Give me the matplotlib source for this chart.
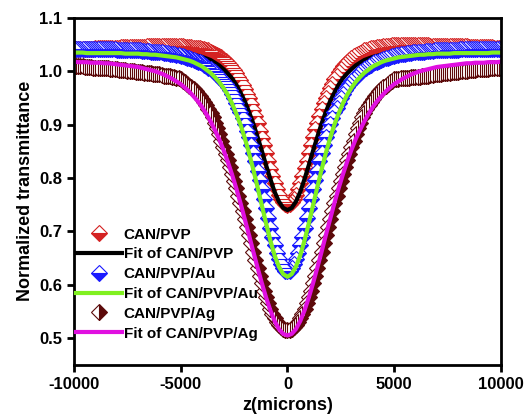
import numpy as np
import matplotlib
matplotlib.use('Agg')
import matplotlib.pyplot as plt
from matplotlib.ticker import FormatStrFormatter

# measured points every 100 microns, fit curves every 200 microns
z_data = np.arange(-10000, 10001, 100)
z_fit = np.arange(-10000, 10001, 200)

# CAN/PVP data (201 points) and fit (101 points)
pvp = [1.041, 1.041, 1.041, 1.041, 1.042, 1.042, 1.042, 1.042, 1.042, 1.042,
       1.043, 1.043, 1.043, 1.043, 1.043, 1.043, 1.044, 1.044, 1.044, 1.044,
       1.044, 1.044, 1.045, 1.045, 1.045, 1.045, 1.045, 1.045, 1.046, 1.046,
       1.046, 1.046, 1.046, 1.046, 1.047, 1.047, 1.047, 1.047, 1.047, 1.047,
       1.047, 1.047, 1.047, 1.047, 1.047, 1.047, 1.047, 1.047, 1.047, 1.047,
       1.047, 1.047, 1.046, 1.046, 1.045, 1.045, 1.044, 1.044, 1.043, 1.043,
       1.042, 1.041, 1.040, 1.039, 1.037, 1.035, 1.033, 1.031, 1.029, 1.026,
       1.023, 1.020, 1.016, 1.012, 1.007, 1.002, 0.996, 0.990, 0.983, 0.975,
       0.967, 0.958, 0.949, 0.939, 0.928, 0.916, 0.903, 0.889, 0.875, 0.861,
       0.846, 0.831, 0.817, 0.803, 0.790, 0.779, 0.769, 0.761, 0.755, 0.751,
       0.750,
       0.751, 0.755, 0.761, 0.769, 0.779, 0.791, 0.804, 0.818, 0.832, 0.847,
       0.862, 0.876, 0.891, 0.904, 0.917, 0.929, 0.940, 0.950, 0.960, 0.969,
       0.977, 0.985, 0.992, 0.998, 1.004, 1.009, 1.014, 1.018, 1.022, 1.025,
       1.028, 1.031, 1.033, 1.035, 1.037, 1.039, 1.040, 1.042, 1.043, 1.044,
       1.044, 1.045, 1.046, 1.046, 1.047, 1.047, 1.048, 1.048, 1.049, 1.049,
       1.049, 1.049, 1.050, 1.050, 1.050, 1.050, 1.050, 1.050, 1.050, 1.050,
       1.049, 1.049, 1.049, 1.049, 1.049, 1.049, 1.048, 1.048, 1.048, 1.048,
       1.048, 1.048, 1.048, 1.048, 1.048, 1.048, 1.048, 1.048, 1.047, 1.047,
       1.047, 1.047, 1.047, 1.047, 1.046, 1.046, 1.046, 1.046, 1.046, 1.046,
       1.045, 1.045, 1.045, 1.045, 1.045, 1.045, 1.044, 1.044, 1.044, 1.044]
fit_pvp = [1.040, 1.040, 1.040, 1.040, 1.040, 1.040, 1.040, 1.040, 1.039, 1.039,
           1.039, 1.039, 1.039, 1.039, 1.039, 1.039, 1.039, 1.039, 1.038, 1.038,
           1.038, 1.037, 1.037, 1.036, 1.036, 1.035, 1.034, 1.033, 1.031, 1.029,
           1.027, 1.024, 1.021, 1.016, 1.011, 1.004, 0.996, 0.987, 0.975, 0.960,
           0.944, 0.924, 0.902, 0.877, 0.851, 0.824, 0.798, 0.774, 0.756, 0.744,
           0.740,
           0.744, 0.756, 0.774, 0.798, 0.824, 0.851, 0.877, 0.902, 0.924, 0.944,
           0.960, 0.975, 0.987, 0.996, 1.004, 1.011, 1.016, 1.021, 1.024, 1.027,
           1.029, 1.031, 1.033, 1.034, 1.035, 1.036, 1.036, 1.037, 1.037, 1.038,
           1.038, 1.038, 1.039, 1.039, 1.039, 1.039, 1.039, 1.039, 1.039, 1.039,
           1.039, 1.039, 1.040, 1.040, 1.040, 1.040, 1.040, 1.040, 1.040, 1.040]

# CAN/PVP/Au data and fit
pvp_au = [1.042, 1.042, 1.042, 1.042, 1.042, 1.042, 1.042, 1.042, 1.042, 1.042,
          1.042, 1.042, 1.042, 1.041, 1.041, 1.041, 1.041, 1.041, 1.041, 1.041,
          1.040, 1.040, 1.040, 1.040, 1.040, 1.040, 1.040, 1.040, 1.039, 1.039,
          1.039, 1.039, 1.038, 1.038, 1.038, 1.038, 1.037, 1.037, 1.036, 1.036,
          1.036, 1.036, 1.035, 1.035, 1.034, 1.033, 1.032, 1.032, 1.031, 1.030,
          1.029, 1.028, 1.026, 1.025, 1.024, 1.023, 1.022, 1.020, 1.018, 1.017,
          1.015, 1.012, 1.009, 1.007, 1.004, 1.001, 0.998, 0.994, 0.990, 0.986,
          0.981, 0.976, 0.970, 0.964, 0.957, 0.949, 0.941, 0.932, 0.923, 0.912,
          0.901, 0.889, 0.876, 0.862, 0.847, 0.831, 0.814, 0.797, 0.779, 0.761,
          0.743, 0.725, 0.707, 0.690, 0.674, 0.660, 0.648, 0.638, 0.631, 0.626,
          0.625,
          0.626, 0.631, 0.638, 0.648, 0.660, 0.674, 0.690, 0.707, 0.725, 0.743,
          0.761, 0.779, 0.797, 0.814, 0.831, 0.847, 0.862, 0.876, 0.889, 0.901,
          0.912, 0.923, 0.932, 0.941, 0.949, 0.957, 0.964, 0.970, 0.976, 0.981,
          0.986, 0.990, 0.994, 0.998, 1.001, 1.004, 1.007, 1.009, 1.012, 1.015,
          1.017, 1.018, 1.020, 1.022, 1.023, 1.024, 1.025, 1.026, 1.028, 1.029,
          1.030, 1.031, 1.032, 1.032, 1.033, 1.034, 1.035, 1.035, 1.036, 1.036,
          1.036, 1.036, 1.037, 1.037, 1.038, 1.038, 1.038, 1.038, 1.039, 1.039,
          1.039, 1.039, 1.040, 1.040, 1.040, 1.040, 1.040, 1.040, 1.040, 1.040,
          1.041, 1.041, 1.041, 1.041, 1.041, 1.041, 1.041, 1.041, 1.041, 1.041,
          1.041, 1.041, 1.041, 1.041, 1.041, 1.041, 1.041, 1.041, 1.041, 1.041]
fit_au = [1.035, 1.035, 1.035, 1.034, 1.034, 1.034, 1.034, 1.034, 1.034, 1.034,
          1.034, 1.034, 1.033, 1.033, 1.033, 1.033, 1.032, 1.032, 1.031, 1.031,
          1.030, 1.029, 1.028, 1.027, 1.026, 1.024, 1.022, 1.020, 1.017, 1.013,
          1.009, 1.003, 0.997, 0.989, 0.980, 0.969, 0.956, 0.940, 0.921, 0.900,
          0.875, 0.847, 0.816, 0.783, 0.749, 0.715, 0.683, 0.655, 0.634, 0.620,
          0.615,
          0.620, 0.634, 0.655, 0.683, 0.715, 0.749, 0.783, 0.816, 0.847, 0.875,
          0.900, 0.921, 0.940, 0.956, 0.969, 0.980, 0.989, 0.997, 1.003, 1.009,
          1.013, 1.017, 1.020, 1.022, 1.024, 1.026, 1.027, 1.028, 1.029, 1.030,
          1.031, 1.031, 1.032, 1.032, 1.033, 1.033, 1.033, 1.033, 1.034, 1.034,
          1.034, 1.034, 1.034, 1.034, 1.034, 1.034, 1.034, 1.035, 1.035, 1.035]

# CAN/PVP/Ag data and fit
pvp_ag = [1.010, 1.009, 1.009, 1.009, 1.009, 1.008, 1.008, 1.008, 1.008, 1.007,
          1.007, 1.007, 1.007, 1.006, 1.006, 1.006, 1.006, 1.005, 1.005, 1.004,
          1.004, 1.003, 1.003, 1.002, 1.002, 1.001, 1.001, 1.000, 1.000, 0.999,
          0.999, 0.998, 0.998, 0.997, 0.997, 0.996, 0.996, 0.995, 0.995, 0.994,
          0.994, 0.993, 0.992, 0.992, 0.991, 0.991, 0.990, 0.989, 0.988, 0.987,
          0.985, 0.982, 0.979, 0.977, 0.973, 0.970, 0.966, 0.963, 0.958, 0.954,
          0.948, 0.943, 0.936, 0.930, 0.922, 0.914, 0.903, 0.893, 0.882, 0.870,
          0.858, 0.845, 0.833, 0.820, 0.807, 0.794, 0.781, 0.767, 0.753, 0.738,
          0.723, 0.708, 0.693, 0.678, 0.662, 0.647, 0.632, 0.617, 0.603, 0.589,
          0.577, 0.565, 0.555, 0.545, 0.537, 0.530, 0.524, 0.520, 0.517, 0.516,
          0.515,
          0.516, 0.517, 0.520, 0.524, 0.530, 0.537, 0.545, 0.555, 0.565, 0.577,
          0.589, 0.603, 0.617, 0.632, 0.647, 0.662, 0.678, 0.693, 0.708, 0.723,
          0.738, 0.753, 0.767, 0.781, 0.794, 0.807, 0.820, 0.833, 0.845, 0.858,
          0.870, 0.882, 0.893, 0.903, 0.914, 0.922, 0.930, 0.936, 0.943, 0.948,
          0.954, 0.958, 0.963, 0.966, 0.970, 0.973, 0.977, 0.979, 0.982, 0.985,
          0.986, 0.986, 0.987, 0.987, 0.988, 0.988, 0.988, 0.989, 0.989, 0.989,
          0.990, 0.990, 0.991, 0.991, 0.992, 0.992, 0.993, 0.993, 0.994, 0.994,
          0.995, 0.995, 0.996, 0.996, 0.997, 0.997, 0.998, 0.998, 0.999, 0.999,
          1.000, 1.000, 1.001, 1.001, 1.002, 1.002, 1.003, 1.003, 1.004, 1.004,
          1.005, 1.005, 1.005, 1.005, 1.006, 1.006, 1.006, 1.007, 1.007, 1.007]
fit_ag = [1.018, 1.017, 1.017, 1.017, 1.016, 1.016, 1.016, 1.015, 1.015, 1.014,
          1.013, 1.012, 1.011, 1.010, 1.009, 1.008, 1.006, 1.004, 1.002, 1.000,
          0.997, 0.994, 0.990, 0.986, 0.981, 0.976, 0.969, 0.962, 0.953, 0.944,
          0.933, 0.920, 0.906, 0.890, 0.873, 0.853, 0.831, 0.807, 0.781, 0.753,
          0.723, 0.693, 0.662, 0.632, 0.603, 0.576, 0.552, 0.532, 0.517, 0.508,
          0.505,
          0.508, 0.517, 0.532, 0.552, 0.576, 0.603, 0.632, 0.662, 0.693, 0.723,
          0.753, 0.781, 0.807, 0.831, 0.853, 0.873, 0.890, 0.906, 0.920, 0.933,
          0.944, 0.953, 0.962, 0.969, 0.976, 0.981, 0.986, 0.990, 0.994, 0.997,
          1.000, 1.002, 1.004, 1.006, 1.008, 1.009, 1.010, 1.011, 1.012, 1.013,
          1.014, 1.015, 1.015, 1.016, 1.016, 1.016, 1.017, 1.017, 1.017, 1.018]

plt.rcParams['font.family'] = 'Liberation Sans'
plt.rcParams['font.weight'] = 'bold'
plt.rcParams['axes.unicode_minus'] = False

fig = plt.figure(figsize=(5.25, 4.16), dpi=100)
ax = fig.add_axes([0.141, 0.123, 0.813, 0.834])

# scan points drawn from +z to -z
zd = z_data[::-1]
ax.plot(zd, pvp[::-1], 'D', ms=8, mew=0.8, color='#d42222', mfc='#d42222',
        mfcalt='white', fillstyle='bottom', label='CAN/PVP')
ax.plot(z_fit, fit_pvp, '-', color='black', lw=3, label='Fit of CAN/PVP')
ax.plot(zd, pvp_au[::-1], 'D', ms=8, mew=0.8, color='#1a1aff', mfc='#1a1aff',
        mfcalt='white', fillstyle='bottom', label='CAN/PVP/Au')
ax.plot(z_fit, fit_au, '-', color='#80f020', lw=3, label='Fit of CAN/PVP/Au')
ax.plot(zd, pvp_ag[::-1], 'D', ms=8, mew=0.8, color='#5c0a0a', mfc='#5c0a0a',
        mfcalt='white', fillstyle='right', label='CAN/PVP/Ag')
ax.plot(z_fit, fit_ag, '-', color='#e010e0', lw=3, label='Fit of CAN/PVP/Ag')

ax.set_xlim(-10000, 10000)
ax.set_ylim(0.45, 1.1)
ax.set_xticks([-10000, -5000, 0, 5000, 10000])
ax.set_yticks([0.5, 0.6, 0.7, 0.8, 0.9, 1.0, 1.1])
ax.yaxis.set_major_formatter(FormatStrFormatter('%.1f'))
ax.tick_params(direction='out', length=5, width=2, labelsize=12)
for s in ax.spines.values():
    s.set_linewidth(2)

ax.set_xlabel('z(microns)', fontsize=13, fontweight='bold', labelpad=4)
ax.set_ylabel('Normalized transmittance', fontsize=13, fontweight='bold')

ax.legend(loc='lower left', bbox_to_anchor=(0.005, 0.07), frameon=False,
          fontsize=11, handlelength=3, handletextpad=0.1,
          labelspacing=0.38, borderaxespad=0, borderpad=0)

fig.savefig('out.png', dpi=100)
